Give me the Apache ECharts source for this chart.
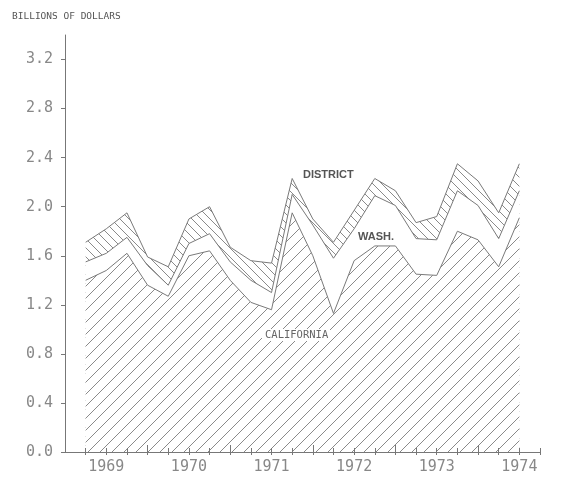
<!DOCTYPE html>
<html>
<head>
<meta charset="utf-8">
<script src="https://cdn.jsdelivr.net/npm/echarts@6/dist/echarts.min.js"></script>
<style>
html,body{margin:0;padding:0;background:#fff;}
#chart{width:562px;height:477px;}
</style>
</head>
<body>
<div id="chart"></div>
<script>
// Axis slots: slot 0 is the y-axis, slots 1..22 are the 22 quarters, slot 23 is the axis end
const slots = ['', 'Q1','Q2','Q3','Q4','Q5','Q6','Q7','Q8','Q9','Q10','Q11','Q12','Q13','Q14','Q15','Q16','Q17','Q18','Q19','Q20','Q21','Q22', ''];
const yearLabels = ['1969','1970','1971','1972','1973','1974'];
const yearLabelSlot = [2, 6, 10, 14, 18, 22];      // slot carrying each year label
const majorTickSlot = [4, 8, 12, 16, 20];          // taller ticks

const california = [1.40,1.48,1.62,1.36,1.27,1.60,1.64,1.40,1.22,1.16,1.95,1.60,1.13,1.56,1.68,1.68,1.45,1.44,1.80,1.73,1.51,1.91];
const washington = [0.15,0.14,0.13,0.16,0.09,0.10,0.14,0.15,0.18,0.14,0.15,0.25,0.45,0.26,0.41,0.33,0.29,0.29,0.33,0.28,0.23,0.22];
const district   = [0.16,0.20,0.20,0.07,0.15,0.20,0.22,0.12,0.16,0.24,0.13,0.05,0.13,0.15,0.14,0.12,0.13,0.19,0.22,0.20,0.21,0.22];

function hatch(size, dir, color) {
  const c = document.createElement('canvas');
  c.width = size; c.height = size;
  const g = c.getContext('2d');
  g.strokeStyle = color; g.lineWidth = 1;
  g.beginPath();
  if (dir === '/') {
    g.moveTo(0, size); g.lineTo(size, 0);
    g.moveTo(-2, 2); g.lineTo(2, -2);
    g.moveTo(size - 2, size + 2); g.lineTo(size + 2, size - 2);
  } else {
    g.moveTo(0, 0); g.lineTo(size, size);
    g.moveTo(-2, size - 2); g.lineTo(2, size + 2);
    g.moveTo(size - 2, -2); g.lineTo(size + 2, 2);
  }
  g.stroke();
  return c;
}

// cumulative levels built from the component arrays
const calTop = california.slice();
const washTop = california.map((v, i) => v + washington[i]);
const distTop = washTop.map((v, i) => v + district[i]);
const toPts = arr => arr.map((v, i) => [i + 1, +v.toFixed(3)]);
const lineCol = '#7a7a7a';

const chart = echarts.init(document.getElementById('chart'), null, {renderer: 'canvas'});
const mono = 'DejaVu Sans Mono';
const tickStyle = {color: '#777', width: 1};

const catAxis = (extra) => Object.assign({
  type: 'category', data: slots, boundaryGap: false, position: 'bottom', offset: 0, z: 10,
  axisLine: {show: false},
  axisLabel: {show: false}, splitLine: {show: false}
}, extra);

chart.setOption({
  animation: false,
  backgroundColor: '#fff',
  title: {
    text: 'BILLIONS OF DOLLARS', left: 7, top: 7,
    textStyle: {fontFamily: mono, fontSize: 9.5, fontWeight: 'normal', color: '#555'}
  },
  grid: {left: 65, right: 22, top: 35, bottom: 25, containLabel: false},
  xAxis: [
    catAxis({
      axisLine: {show: true, lineStyle: {color: '#777', width: 1}},
      axisTick: {show: true, inside: false, length: 3, interval: (i) => i > 0, lineStyle: tickStyle},
      axisLabel: {
        show: true, margin: 8, interval: 0,
        fontFamily: mono, fontSize: 15, color: '#888',
        formatter: (v, i) => { const k = yearLabelSlot.indexOf(i); return k >= 0 ? yearLabels[k] : ''; }
      }
    }),
    catAxis({
      axisTick: {show: true, inside: true, length: 4, interval: (i) => i > 0, lineStyle: tickStyle}
    }),
    catAxis({
      axisTick: {show: true, inside: true, length: 7, interval: (i) => majorTickSlot.indexOf(i) >= 0, lineStyle: tickStyle}
    })
  ],
  yAxis: {
    type: 'value', min: 0, max: 3.4, interval: 0.4, z: 10,
    axisLine: {show: true, lineStyle: {color: '#777', width: 1}},
    axisTick: {show: true, inside: false, length: 4, lineStyle: tickStyle},
    axisLabel: {
      margin: 12, showMaxLabel: false,
      fontFamily: mono, fontSize: 15, color: '#888',
      formatter: v => (v > 3.3 ? '' : v.toFixed(1))
    },
    splitLine: {show: false}
  },
  series: [
    {
      name: 'DISTRICT', type: 'line', data: toPts(distTop),
      symbol: 'none', lineStyle: {color: lineCol, width: 1},
      areaStyle: {color: {image: hatch(9, '\\', '#8a8a8a'), repeat: 'repeat'}, opacity: 1, origin: 'start'},
      z: 2
    },
    {
      name: 'WASH.', type: 'line', data: toPts(washTop),
      symbol: 'none', lineStyle: {color: lineCol, width: 1},
      areaStyle: {color: '#ffffff', opacity: 1, origin: 'start'},
      z: 3
    },
    {
      name: 'CALIFORNIA', type: 'line', data: toPts(calTop),
      symbol: 'none', lineStyle: {color: lineCol, width: 1},
      areaStyle: {color: {image: hatch(12, '/', '#8a8a8a'), repeat: 'repeat'}, opacity: 1, origin: 'start'},
      z: 4
    }
  ],
  graphic: [
    {type: 'text', z: 100, left: 303, top: 169, style: {text: 'DISTRICT', font: 'bold 11px "Liberation Sans"', fill: '#555'}},
    {type: 'text', z: 100, left: 358, top: 231, style: {text: 'WASH.', font: 'bold 11px "Liberation Sans"', fill: '#555'}},
    {type: 'rect', z: 99, shape: {x: 262, y: 329, width: 68, height: 12}, style: {fill: '#fff'}},
    {type: 'text', z: 100, left: 265, top: 330, style: {text: 'CALIFORNIA', font: '10.5px "DejaVu Sans Mono"', fill: '#666'}}
  ]
});
</script>
</body>
</html>
